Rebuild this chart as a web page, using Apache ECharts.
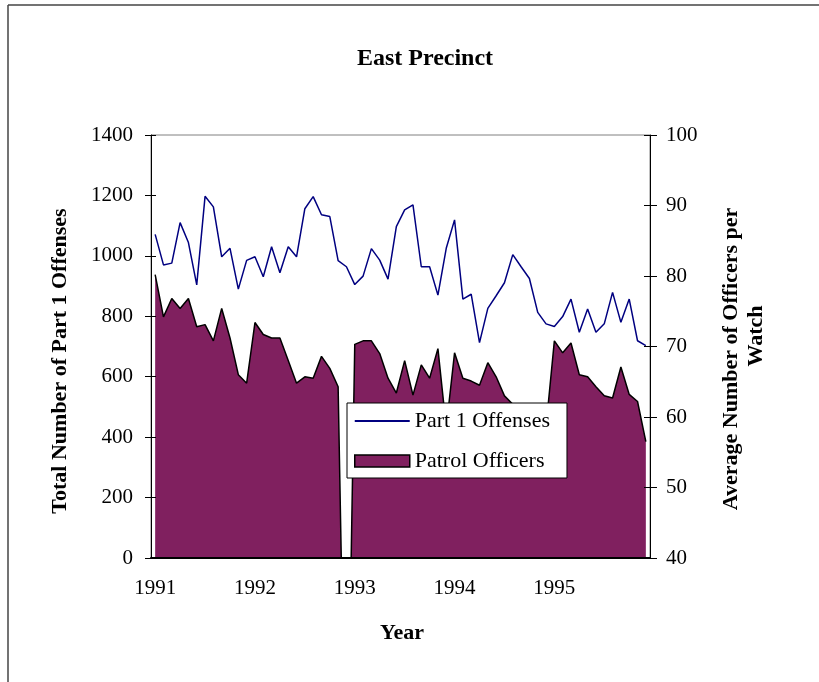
<!DOCTYPE html>
<html>
<head>
<meta charset="utf-8">
<script src="https://cdn.jsdelivr.net/npm/echarts@6/dist/echarts.min.js"></script>
<style>
  html, body { margin: 0; padding: 0; background: #fff; }
  #main { width: 819px; height: 682px; }
</style>
</head>
<body>
<div id="main"></div>
<script>
// 年份（刻度标签），每年12个月
var years = ['1991', '1992', '1993', '1994', '1995'];
var leftTicks = [0, 200, 400, 600, 800, 1000, 1200, 1400];
var rightTicks = [40, 50, 60, 70, 80, 90, 100];

// Part 1 Offenses（左轴）
var offenses = [
  1071, 970, 976, 1110, 1044, 904, 1197, 1162, 997, 1025, 890, 985,
  997, 931, 1030, 944, 1030, 997, 1156, 1196, 1136, 1130, 984, 964,
  905, 933, 1024, 986, 923, 1097, 1152, 1169, 964, 964, 870, 1025,
  1119, 857, 873, 713, 826, 868, 911, 1004, 964, 925, 813, 775,
  766, 799, 857, 747, 824, 747, 775, 879, 780, 857, 719, 703
];

// Patrol Officers（右轴）
var officers = [
  80.2, 74.2, 76.8, 75.4, 76.8, 72.8, 73.1, 70.8, 75.4, 71.2, 66.0, 64.8,
  73.4, 71.7, 71.2, 71.2, 68.0, 64.8, 65.7, 65.5, 68.6, 66.9, 64.3, 0,
  70.3, 70.8, 70.8, 69.0, 65.5, 63.4, 68.0, 63.1, 67.4, 65.5, 69.7, 58.5,
  69.1, 65.5, 65.1, 64.5, 67.7, 65.7, 63.0, 61.8, 59.0, 58.0, 58.0, 58.6,
  70.8, 69.1, 70.5, 66.0, 65.7, 64.3, 63.0, 62.7, 67.1, 63.2, 62.2, 56.5
];

var months = [];
years.forEach(function (y) {
  for (var m = 1; m <= 12; m++) months.push(y + '-' + m);
});

var serif = 'Liberation Serif';
var myChart = echarts.init(document.getElementById('main'));

var option = {
  animation: false,
  backgroundColor: '#fff',
  title: {
    text: 'East Precinct',
    left: 420,
    top: 42,
    textAlign: 'center',
    textStyle: { fontFamily: serif, fontWeight: 'bold', fontSize: 24, color: '#000' }
  },
  grid: {
    left: 151, right: 169, top: 135, bottom: 124,
    show: true, borderColor: '#808080', borderWidth: 1
  },
  legend: {
    orient: 'vertical',
    left: 347,
    top: 403,
    padding: [7, 17, 6, 7],
    itemGap: 18,
    itemWidth: 55,
    itemHeight: 12,
    backgroundColor: '#fff',
    borderColor: '#000',
    borderWidth: 1,
    symbolKeepAspect: true,
    textStyle: { fontFamily: serif, fontSize: 22, color: '#000', lineHeight: 22 },
    data: [
      { name: 'Part 1 Offenses', icon: 'path://M0,0L200,0L200,7L0,7Z',
        itemStyle: { color: '#000080', borderWidth: 0 } },
      { name: 'Patrol Officers', icon: 'rect',
        itemStyle: { color: '#80205F', borderColor: '#000', borderWidth: 1.5 } }
    ]
  },
  xAxis: {
    type: 'category',
    data: months,
    boundaryGap: true,
    z: 10,
    axisLine: { lineStyle: { color: '#000', width: 2 } },
    axisTick: { interval: 11, length: 7, lineStyle: { color: '#000' } },
    axisLabel: {
      interval: 11, margin: 20,
      fontFamily: serif, fontSize: 21, color: '#000',
      formatter: function (v) { return v.slice(0, 4); }
    },
    splitLine: { show: false }
  },
  yAxis: [{
    type: 'value', position: 'left',
    min: leftTicks[0], max: leftTicks[leftTicks.length - 1], interval: 200,
    z: 10,
    axisLine: { show: true, lineStyle: { color: '#000' } },
    axisTick: { show: true, length: 6, lineStyle: { color: '#000' } },
    axisLabel: { margin: 18, fontFamily: serif, fontSize: 21, color: '#000',
      formatter: function (v) { return String(v); } },
    splitLine: { show: false }
  }, {
    type: 'value', position: 'right',
    min: rightTicks[0], max: rightTicks[rightTicks.length - 1], interval: 10,
    z: 10,
    axisLine: { show: true, lineStyle: { color: '#000' } },
    axisTick: { show: true, length: 7, lineStyle: { color: '#000' } },
    axisLabel: { margin: 16, fontFamily: serif, fontSize: 21, color: '#000' },
    splitLine: { show: false }
  }, {
    // 刻度线穿过轴线（内侧部分）
    type: 'value', position: 'left',
    min: leftTicks[0], max: leftTicks[leftTicks.length - 1], interval: 200,
    z: 10,
    axisLine: { show: false },
    axisTick: { show: true, inside: true, length: 5, lineStyle: { color: '#000' } },
    axisLabel: { show: false },
    splitLine: { show: false }
  }, {
    type: 'value', position: 'right',
    min: rightTicks[0], max: rightTicks[rightTicks.length - 1], interval: 10,
    z: 10,
    axisLine: { show: false },
    axisTick: { show: true, inside: true, length: 6, lineStyle: { color: '#000' } },
    axisLabel: { show: false },
    splitLine: { show: false }
  }],
  series: [{
    name: 'Patrol Officers',
    type: 'line',
    yAxisIndex: 1,
    data: officers,
    symbol: 'none',
    showSymbol: false,
    clip: true,
    z: 2,
    lineStyle: { color: '#000', width: 1.5 },
    itemStyle: { color: '#80205F' },
    areaStyle: { color: '#80205F', opacity: 1, origin: 'start' }
  }, {
    name: 'Part 1 Offenses',
    type: 'line',
    yAxisIndex: 0,
    data: offenses,
    symbol: 'none',
    showSymbol: false,
    z: 3,
    lineStyle: { color: '#000080', width: 1.5 },
    itemStyle: { color: '#000080' }
  }],
  graphic: [
    { type: 'line', shape: { x1: 8, y1: 5, x2: 819, y2: 5 }, style: { stroke: '#444', lineWidth: 1.5 } },
    { type: 'line', shape: { x1: 8, y1: 5, x2: 8, y2: 682 }, style: { stroke: '#444', lineWidth: 1.5 } },
    {
      type: 'text', x: 60, y: 361, rotation: Math.PI / 2,
      style: { text: 'Total Number of Part 1 Offenses', font: 'bold 22px "Liberation Serif"',
        fill: '#000', align: 'center', verticalAlign: 'middle' }
    },
    {
      type: 'text', x: 731, y: 359, rotation: Math.PI / 2,
      style: { text: 'Average Number of Officers per', font: 'bold 22px "Liberation Serif"',
        fill: '#000', align: 'center', verticalAlign: 'middle' }
    },
    {
      type: 'text', x: 756, y: 336, rotation: Math.PI / 2,
      style: { text: 'Watch', font: 'bold 22px "Liberation Serif"',
        fill: '#000', align: 'center', verticalAlign: 'middle' }
    },
    {
      type: 'text', x: 402, y: 633,
      style: { text: 'Year', font: 'bold 22px "Liberation Serif"',
        fill: '#000', align: 'center', verticalAlign: 'middle' }
    }
  ]
};

myChart.setOption(option);
</script>
</body>
</html>
